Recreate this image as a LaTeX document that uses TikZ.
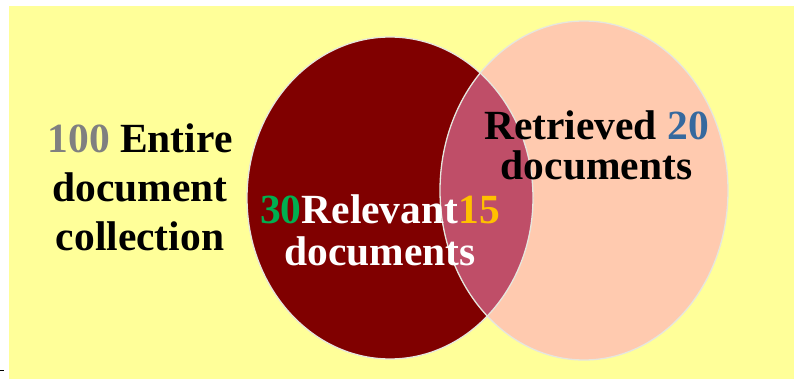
\documentclass[tikz,border=0pt]{standalone}
\usepackage{fontspec}
\setmainfont{Liberation Serif}
\definecolor{bgyellow}{HTML}{FFFF99}
\definecolor{relred}{HTML}{800000}
\definecolor{retpeach}{HTML}{FFCAAF}
\definecolor{lenspink}{HTML}{BF4E68}
\definecolor{outl}{HTML}{E6E6DE}
\definecolor{numgray}{HTML}{808080}
\definecolor{numgreen}{HTML}{00B050}
\definecolor{numorange}{HTML}{FFC000}
\definecolor{numblue}{HTML}{36699E}
\tikzset{
  lbl/.style={anchor=base, inner sep=0pt, font=\bfseries\fontsize{41.5}{48}\selectfont},
  outline/.style={draw=outl, line width=1.3pt}
}
\begin{document}
\begin{tikzpicture}[x=1pt,y=-1pt]
\useasboundingbox (0,0) rectangle (794,379);
\fill[bgyellow] (9,6) rectangle (794,379);
\draw[black, line width=1pt] (0,370) coordinate (t1) -- (3.5,370) coordinate (t2);
% ellipses
\fill[relred] (390,198) ellipse [x radius=143, y radius=161];
\fill[retpeach] (584,190.5) ellipse [x radius=144, y radius=169.5];
\begin{scope}
  \clip (390,198) ellipse [x radius=143, y radius=161];
  \fill[lenspink] (584,190.5) ellipse [x radius=144, y radius=169.5];
\end{scope}
\draw[outline] (390,198) ellipse [x radius=143, y radius=161];
\draw[outline] (584,190.5) ellipse [x radius=144, y radius=169.5];
% left text
\node[lbl] (c1) at (140,153) {\textcolor{numgray}{100} Entire};
\node[lbl] (c2) at (140,202) {document};
\node[lbl] (c3) at (140,250) {collection};
% relevant
\node[lbl, text=white] (r1) at (380,223) {\textcolor{numgreen}{30}Relevant\textcolor{numorange}{15}};
\node[lbl, text=white] (r2) at (380,265) {documents};
% retrieved
\node[lbl] (t1n) at (596.5,140) {Retrieved \textcolor{numblue}{20}};
\node[lbl] (t2n) at (596.5,180) {documents};
\end{tikzpicture}
\end{document}
